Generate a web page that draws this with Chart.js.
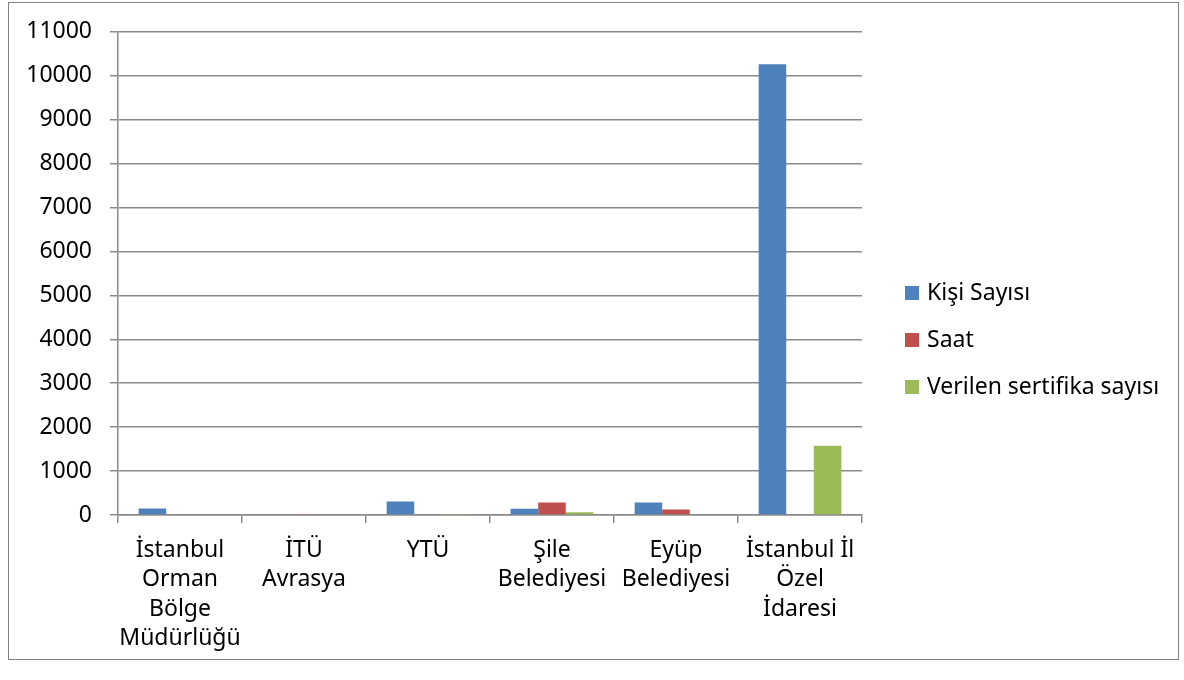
<!DOCTYPE html>
<html>
<head>
<meta charset="utf-8">
<title>Eğitim istatistikleri</title>
<script src="https://cdn.jsdelivr.net/npm/chart.js@4.4.1/dist/chart.umd.min.js"></script>
<style>
    html, body { margin: 0; padding: 0; background: #fff; }
    #wrap { position: relative; width: 1184px; height: 680px; }
    #frame {
        position: absolute; left: 8px; top: 2px; width: 1171px; height: 658px;
        border: 1.5px solid #7f7f7f; box-sizing: border-box; pointer-events: none;
    }
</style>
</head>
<body>
<div id="wrap">
    <canvas id="chart" width="1184" height="680"></canvas>
    <div id="frame"></div>
</div>
<script>
// Kurumlar (x ekseni etiketleri, satır satır)
const categories = [
    ['İstanbul', 'Orman', 'Bölge', 'Müdürlüğü'],
    ['İTÜ', 'Avrasya'],
    ['YTÜ'],
    ['Şile', 'Belediyesi'],
    ['Eyüp', 'Belediyesi'],
    ['İstanbul İl', 'Özel', 'İdaresi']
];

const seriesNames = ['Kişi Sayısı', 'Saat', 'Verilen sertifika sayısı'];
const seriesColors = ['#4F81BD', '#C0504D', '#9BBB59'];

const kisiSayisi = [150, 15, 310, 140, 285, 10260];
const saat = [0, 20, 0, 285, 125, 0];
const sertifika = [0, 0, 12, 65, 0, 1575];

const yMin = 0;
const yMax = 11000;
const yStep = 1000;

const FONT = "'Noto Sans', 'DejaVu Sans', sans-serif";
const AXIS_GRAY = '#8a8a8a';

// Legend drawn next to the plot, Excel style
const sideLegend = {
    id: 'sideLegend',
    afterDraw(chart) {
        const { ctx } = chart;
        ctx.save();
        ctx.font = `23px ${FONT}`;
        ctx.textBaseline = 'middle';
        ctx.textAlign = 'left';
        chart.data.datasets.forEach((ds, i) => {
            const y = 293 + i * 47;
            ctx.fillStyle = ds.backgroundColor;
            ctx.fillRect(905, y - 7, 14, 14);
            ctx.fillStyle = '#000';
            ctx.fillText(ds.label, 927, y);
        });
        ctx.restore();
    }
};

const values = [kisiSayisi, saat, sertifika];

new Chart(document.getElementById('chart'), {
    type: 'bar',
    data: {
        labels: categories,
        datasets: seriesNames.map((name, i) => ({
            label: name,
            data: values[i],
            backgroundColor: seriesColors[i],
            borderWidth: 0,
            categoryPercentage: 0.667,
            barPercentage: 1.0
        }))
    },
    options: {
        responsive: false,
        animation: false,
        layout: { padding: { left: 0, right: 322, top: 31, bottom: 0 } },
        plugins: {
            legend: { display: false },
            tooltip: { enabled: false }
        },
        scales: {
            y: {
                min: yMin,
                max: yMax,
                afterFit: (s) => { s.width = 118; },
                ticks: {
                    stepSize: yStep,
                    color: '#000',
                    padding: 18,
                    callback: (v) => String(v),
                    font: { family: FONT, size: 23 }
                },
                grid: { color: AXIS_GRAY, lineWidth: 1.5, tickLength: 8 },
                border: { color: AXIS_GRAY, width: 1.5 }
            },
            x: {
                afterFit: (s) => { s.height = 165; },
                ticks: {
                    color: '#000',
                    padding: 13,
                    maxRotation: 0,
                    autoSkip: false,
                    font: { family: FONT, size: 23, lineHeight: 1.27 }
                },
                grid: {
                    offset: true,
                    drawOnChartArea: false,
                    drawTicks: true,
                    tickLength: 8,
                    color: AXIS_GRAY,
                    lineWidth: 1.5
                },
                border: { color: AXIS_GRAY, width: 1.5 }
            }
        }
    },
    plugins: [sideLegend]
});
</script>
</body>
</html>
